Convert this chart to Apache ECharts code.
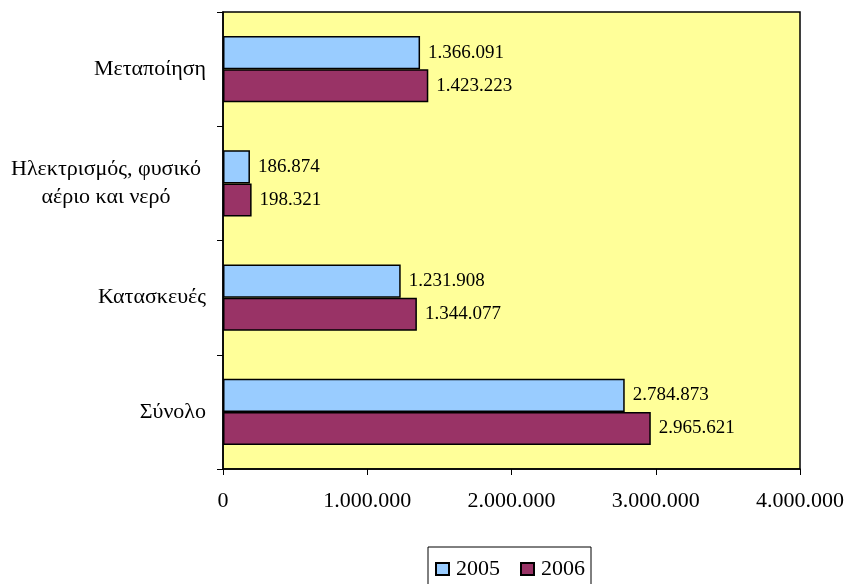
<!DOCTYPE html>
<html>
<head>
<meta charset="utf-8">
<script src="https://cdn.jsdelivr.net/npm/echarts@6/dist/echarts.min.js"></script>
<style>
    html, body { margin: 0; padding: 0; background: #fff; }
    #chart { width: 850px; height: 584px; }
</style>
</head>
<body>
<div id="chart"></div>
<script>
const categories = ['Μεταποίηση', 'Ηλεκτρισμός, φυσικό\nαέριο και νερό', 'Κατασκευές', 'Σύνολο'];
const values2005 = [1366091, 186874, 1231908, 2784873];
const values2006 = [1423223, 198321, 1344077, 2965621];
const xTicks = [0, 1000000, 2000000, 3000000, 4000000];

const font = 'Liberation Serif, Times New Roman, serif';

// 1234567 -> 1.234.567
function dots(v) {
    return String(v).replace(/\B(?=(\d{3})+(?!\d))/g, '.');
}

const chart = echarts.init(document.getElementById('chart'));

function barSeries(name, data, color) {
    return {
        name: name,
        type: 'bar',
        data: data,
        barGap: '0%',
        barCategoryGap: '42%',
        itemStyle: { color: color, borderColor: '#000', borderWidth: 1.5 },
        label: {
            show: true,
            position: 'right',
            distance: 8,
            color: '#000',
            fontFamily: font,
            fontSize: 19,
            formatter: p => dots(p.value)
        }
    };
}

chart.setOption({
    animation: false,
    textStyle: { fontFamily: font },
    legend: {
        left: 428,
        top: 547,
        padding: [11, 6, 20, 7],
        borderColor: '#000',
        borderWidth: 1,
        itemWidth: 13,
        itemHeight: 12,
        itemGap: 20,
        icon: 'rect',
        textStyle: { fontFamily: font, fontSize: 22, color: '#000', padding: [0, 0, 0, 2] },
        data: ['2005', '2006']
    },
    grid: { left: 223, top: 12, right: 50, bottom: 115, backgroundColor: '#FFFF99', show: true, borderColor: '#000', borderWidth: 1.5 },
    xAxis: {
        type: 'value',
        min: xTicks[0],
        max: xTicks[xTicks.length - 1],
        interval: 1000000,
        splitLine: { show: false },
        axisLine: { show: true, lineStyle: { color: '#000', width: 1.5 } },
        axisTick: { show: true, length: 6, lineStyle: { color: '#000' } },
        axisLabel: { color: '#000', fontFamily: font, fontSize: 22, margin: 21, formatter: v => dots(v) }
    },
    yAxis: {
        type: 'category',
        inverse: true,
        data: categories,
        axisLine: { lineStyle: { color: '#000', width: 1.5 } },
        axisTick: { show: true, length: 6, lineStyle: { color: '#000' } },
        axisLabel: {
            color: '#000',
            fontFamily: font,
            fontSize: 22,
            margin: 17,
            formatter: v => v.indexOf('\n') < 0 ? v : v.split('\n').map(s => '{m|' + s + '}').join('\n'),
            rich: {
                m: { fontFamily: font, fontSize: 22, color: '#000', width: 200, align: 'center', lineHeight: 28 }
            }
        }
    },
    series: [
        barSeries('2005', values2005, '#99CCFF'),
        barSeries('2006', values2006, '#993366')
    ]
});
</script>
</body>
</html>
